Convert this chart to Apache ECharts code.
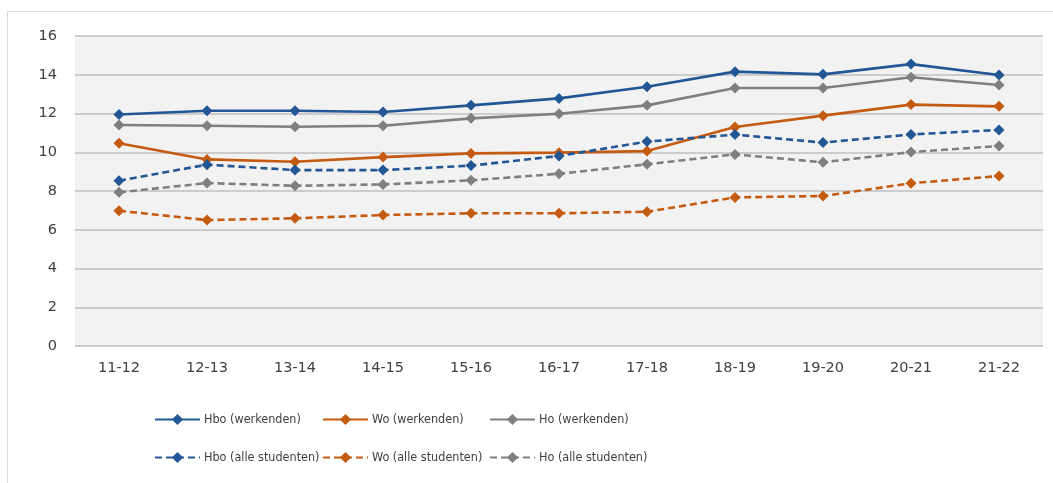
<!DOCTYPE html>
<html><head><meta charset="utf-8">
<script src="https://cdn.jsdelivr.net/npm/echarts@6/dist/echarts.min.js"></script>
<style>html,body{margin:0;padding:0;background:#fff}#c{width:1053px;height:483px}</style>
</head><body><div id="c"></div>
<script>
const categories = ['11-12','12-13','13-14','14-15','15-16','16-17','17-18','18-19','19-20','20-21','21-22'];
const hboWerkenden = [11.95,12.14,12.14,12.08,12.42,12.78,13.38,14.16,14.02,14.55,13.99];
const woWerkenden  = [10.46,9.63,9.51,9.75,9.94,9.98,10.06,11.30,11.89,12.46,12.37];
const hoWerkenden  = [11.41,11.37,11.32,11.37,11.75,11.99,12.42,13.32,13.32,13.87,13.47];
const hboAlle = [8.53,9.36,9.08,9.08,9.31,9.81,10.55,10.91,10.50,10.92,11.15];
const woAlle  = [6.98,6.50,6.59,6.76,6.85,6.85,6.93,7.67,7.74,8.40,8.77];
const hoAlle  = [7.93,8.41,8.27,8.34,8.55,8.89,9.38,9.89,9.48,10.01,10.32];
const yTicks = [0,2,4,6,8,10,12,14,16];

const BLUE='#235694', ORANGE='#C55A11', GRAY='#7F7F7F';
const legendFont = "'DejaVu Sans Condensed',sans-serif";
function mk(name, data, color, dashed){
  return {name, type:'line', data, symbol:'diamond', symbolSize:11,
    lineStyle:{color, width:2.6, type: dashed?[7,4]:'solid'},
    itemStyle:{color}, emphasis:{disabled:true}, animation:false};
}
const series = [
  mk('Hbo (werkenden)', hboWerkenden, BLUE, false),
  mk('Wo (werkenden)', woWerkenden, ORANGE, false),
  mk('Ho (werkenden)', hoWerkenden, GRAY, false),
  mk('Hbo (alle studenten)', hboAlle, BLUE, true),
  mk('Wo (alle studenten)', woAlle, ORANGE, true),
  mk('Ho (alle studenten)', hoAlle, GRAY, true)
];
const cols=[154,322,489], rows=[413,451];
const legends = series.map((s,i)=>({
  data:[s.name], left: cols[i%3], top: rows[Math.floor(i/3)],
  itemWidth:45, itemHeight:14, itemGap:0, padding:0,
  selectedMode:false,
  itemStyle:{}, 
  textStyle:{fontFamily:legendFont, fontSize:12.5, color:'#404040', padding:[0,0,0,-1]}
}));
const chart = echarts.init(document.getElementById('c'), null, {renderer:'canvas'});
chart.setOption({
  animation:false,
  graphic:[{type:'rect', shape:{x:7.5,y:11.5,width:1200,height:600}, style:{fill:'none', stroke:'#D9D9D9', lineWidth:1}, z:-1}],
  grid:{left:75, right:10, top:36, bottom:137, show:true, backgroundColor:'#F2F2F2', borderWidth:0},
  legend: legends,
  xAxis:{type:'category', data:categories, boundaryGap:true,
    axisLine:{show:false}, axisTick:{show:false},
    axisLabel:{margin:15, fontSize:14.5, color:'#404040', fontFamily:"'DejaVu Sans',sans-serif"}},
  yAxis:{type:'value', min:yTicks[0], max:yTicks[yTicks.length-1], interval:2,
    axisLine:{show:false}, axisTick:{show:false},
    splitLine:{lineStyle:{color:'#BFBFBF', width:1.5}},
    axisLabel:{margin:18, fontSize:14.5, color:'#404040', fontFamily:"'DejaVu Sans',sans-serif"}},
  series
});
</script></body></html>
